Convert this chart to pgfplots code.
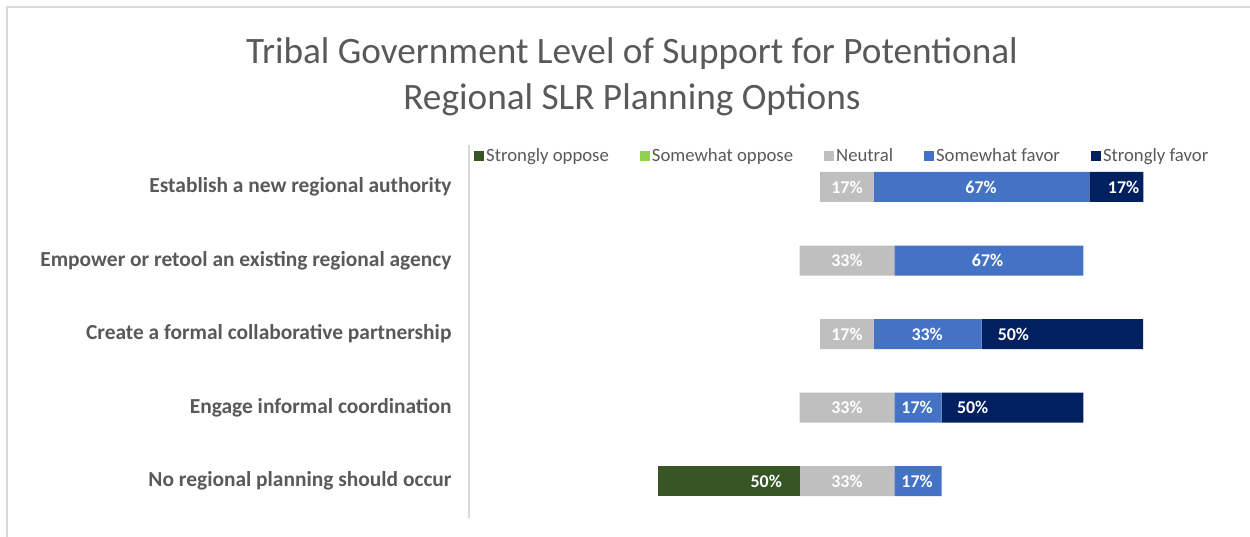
\documentclass[border=0pt]{standalone}
\usepackage{fontspec}
\setmainfont{Carlito}
\usepackage{pgfplots}
\pgfplotsset{compat=1.18}
\definecolor{txt}{HTML}{595959}
\definecolor{sopp}{HTML}{375623}
\definecolor{wopp}{HTML}{92D050}
\definecolor{neut}{HTML}{BFBFBF}
\definecolor{wfav}{HTML}{4472C4}
\definecolor{sfav}{HTML}{002060}
\definecolor{frm}{HTML}{D9D9D9}

\begin{document}
\begin{tikzpicture}
\useasboundingbox (0,0) rectangle (1250bp,-537bp);
\draw[frm, line width=2bp] (7bp,-537bp) -- (7bp,-6.5bp) -- (1250bp,-6.5bp);
\node[anchor=base, text=txt, inner sep=0, font=\fontsize{37.4}{44}\selectfont] at (632bp,-63bp) {Tribal Government Level of Support for Potentional};
\node[anchor=base, text=txt, inner sep=0, font=\fontsize{37.4}{44}\selectfont] at (632bp,-109bp) {Regional SLR Planning Options};

% bars: the first series is an invisible offset, so that the neutral share sits centred on 117
\begin{axis}[
  at={(469bp,-518bp)}, anchor=south west,
  width=756bp, height=373bp, scale only axis,
  xbar stacked, bar width=30bp,
  xmin=0, xmax=234, ymin=-0.5, ymax=4.57,
  axis lines*=left,
  x axis line style={draw=none},
  y axis line style={frm, line width=1.5bp},
  xtick=\empty,
  ytick={0,1,2,3,4},
  yticklabels={No regional planning should occur, Engage informal coordination\hspace{5bp}, Create a formal collaborative partnership\hspace{5bp}, Empower or retool an existing regional agency, Establish a new regional authority},
  major tick length=0,
  yticklabel style={font=\bfseries\fontsize{21.5}{24}\selectfont, text=txt, anchor=east, xshift=-14bp},
]
\addplot[draw=none, fill=none] coordinates {(58.45,0) (102.35,1) (108.65,2) (102.35,3) (108.65,4)};
\addplot[fill=sopp, draw=none] coordinates {(43.9,0) (0,1) (0,2) (0,3) (0,4)};
\addplot[fill=wopp, draw=none] coordinates {(0,0) (0,1) (0,2) (0,3) (0,4)};
\addplot[fill=neut, draw=none] coordinates {(29.3,0) (29.3,1) (16.7,2) (29.3,3) (16.7,4)};
\addplot[fill=wfav, draw=none] coordinates {(14.6,0) (14.6,1) (33.3,2) (58.5,3) (66.7,4)};
\addplot[fill=sfav, draw=none] coordinates {(0,0) (43.9,1) (50,2) (0,3) (16.7,4)};
\end{axis}

% data labels and legend
\begin{axis}[
  at={(469bp,-518bp)}, anchor=south west,
  width=756bp, height=373bp, scale only axis,
  xmin=0, xmax=234, ymin=-0.5, ymax=4.57,
  hide axis,
  legend columns=5,
  legend style={at={(0.0066,0.9705)}, anchor=west, draw=none, fill=none, inner sep=0pt,
    font=\fontsize{18.8}{22}\selectfont, text=txt,
    /tikz/every even column/.append style={column sep=29bp}},
  legend image code/.code={\fill[#1] (0bp,-5bp) rectangle (10bp,5bp);},
]
\addplot[forget plot, only marks, mark=*, mark size=0pt, mark options={draw=none, fill=none},
  nodes near coords, point meta=explicit symbolic,
  every node near coord/.style={anchor=center, text=white, font=\bfseries\fontsize{18}{20}\selectfont}]
  coordinates {
  (117,4) [17\%] (158.5,4) [67\%] (202.6,4) [17\%]
  (117,3) [33\%] (160.5,3) [67\%]
  (117,2) [17\%] (141.8,2) [33\%] (168.5,2) [50\%]
  (117,1) [33\%] (138.7,1) [17\%] (155.9,1) [50\%]
  (92,0) [50\%] (117,0) [33\%] (138.7,0) [17\%]
  };
\addlegendimage{fill=sopp, draw=none}
\addlegendentry{Strongly oppose}
\addlegendimage{fill=wopp, draw=none}
\addlegendentry{Somewhat oppose}
\addlegendimage{fill=neut, draw=none}
\addlegendentry{Neutral}
\addlegendimage{fill=wfav, draw=none}
\addlegendentry{Somewhat favor}
\addlegendimage{fill=sfav, draw=none}
\addlegendentry{Strongly favor}
\end{axis}
\end{tikzpicture}
\end{document}
